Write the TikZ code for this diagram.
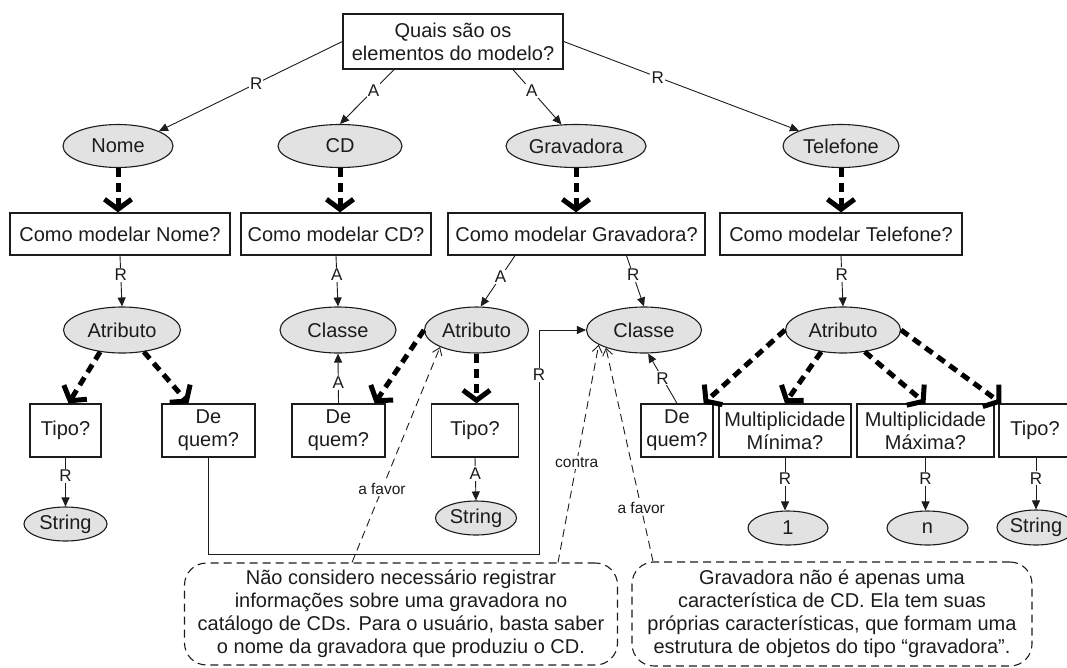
\documentclass[tikz,border=0pt]{standalone}
\usepackage{fontspec}
\setmainfont{Liberation Sans}
\usetikzlibrary{arrows.meta,shapes.geometric}
\definecolor{ellfill}{HTML}{E2E2E2}
\definecolor{ink}{HTML}{1C1C1C}
\begin{document}
\begin{tikzpicture}[x=1pt,y=-1pt,
  every node/.style={text=ink},
  box/.style={draw=ink, line width=1.3pt, rectangle, inner sep=2pt, align=center, font=\fontsize{20}{23}\selectfont},
  ell/.style={draw=ink, line width=1.1pt, ellipse, fill=ellfill, inner sep=0pt, font=\fontsize{20}{23}\selectfont},
  note/.style={draw=ink, line width=1.1pt, dash pattern=on 8pt off 5pt, rounded corners=22pt, align=center, inner sep=0pt, font=\fontsize{20}{23}\selectfont},
  lbl/.style={fill=white, inner sep=1.2pt, font=\fontsize{17}{19}\selectfont},
  arglbl/.style={fill=white, inner sep=1.5pt, font=\fontsize{15.5}{17}\selectfont},
  link/.style={draw=ink, line width=0.9pt, -{Triangle[length=9pt,width=8pt]}},
  arg/.style={draw=ink, line width=0.9pt, dash pattern=on 8pt off 5pt, -{Straight Barb[length=7pt,width=10pt]}},
  bigdash/.style={draw=black, line width=5pt, dash pattern=on 9pt off 6pt, -{Straight Barb[length=10pt,width=27pt]}}
]
\useasboundingbox (0,0) rectangle (1067,667);

% top question
\node[box, minimum width=220pt, minimum height=55pt] (q) at (453,41.5) {Quais são os\\elementos do modelo?};

% row 1 ellipses
\node[ell, minimum width=110pt, minimum height=43pt] (nome) at (118,146) {Nome};
\node[ell, minimum width=124pt, minimum height=43pt] (cd) at (340,146) {CD};
\node[ell, minimum width=140pt, minimum height=43pt] (grav) at (576,146) {Gravadora};
\node[ell, minimum width=116pt, minimum height=43pt] (tel) at (841,146) {Telefone};

% row 2 boxes
\node[box, minimum width=220pt, minimum height=42pt] (cmn) at (120,234) {Como modelar Nome?};
\node[box, minimum width=190pt, minimum height=42pt] (cmcd) at (336,234) {Como modelar CD?};
\node[box, minimum width=257pt, minimum height=42pt] (cmg) at (576.5,234) {Como modelar Gravadora?};
\node[box, minimum width=242pt, minimum height=42pt] (cmt) at (841,234) {Como modelar Telefone?};

% row 3 ellipses
\node[ell, minimum width=117pt, minimum height=46pt] (at1) at (122,330) {Atributo};
\node[ell, minimum width=116pt, minimum height=46pt] (cl1) at (338,330) {Classe};
\node[ell, minimum width=104pt, minimum height=46pt] (at2) at (476.5,330) {Atributo};
\node[ell, minimum width=115pt, minimum height=46pt] (cl2) at (644,330) {Classe};
\node[ell, minimum width=115pt, minimum height=46pt] (at3) at (843,330) {Atributo};

% row 4 boxes
\node[box, minimum width=71pt, minimum height=53pt] (tp1) at (65.5,430.5) {Tipo?};
\node[box, minimum width=93pt, minimum height=53pt] (dq1) at (208.5,430.5) {De\\quem?};
\node[box, minimum width=93pt, minimum height=53pt] (dq2) at (338.5,430.5) {De\\quem?};
\node[box, minimum width=87pt, minimum height=53pt] (tp2) at (475,430.5) {Tipo?};
\node[box, minimum width=72pt, minimum height=53pt] (dq3) at (677,430.5) {De\\quem?};
\node[box, minimum width=132pt, minimum height=53pt] (mmin) at (785,430.5) {Multiplicidade\\Mínima?};
\node[box, minimum width=137pt, minimum height=53pt] (mmax) at (925.5,430.5) {Multiplicidade\\Máxima?};
\node[box, minimum width=72pt, minimum height=53pt] (tp3) at (1035,430.5) {Tipo?};

% row 5 ellipses
\node[ell, minimum width=83pt, minimum height=34pt] (s1) at (65.5,524) {String};
\node[ell, minimum width=81pt, minimum height=34pt] (s2) at (476,518) {String};
\node[ell, minimum width=80pt, minimum height=34pt] (one) at (788,528) {1};
\node[ell, minimum width=81pt, minimum height=34pt] (n) at (927.5,528) {n};
\node[ell, minimum width=78pt, minimum height=35pt] (s3) at (1036,527.5) {String};

% notes
\node[note, minimum width=433pt, minimum height=102pt] (note1) at (401,614) {Não considero necessário registrar\\informações sobre uma gravadora no\\catálogo de CDs. Para o usuário, basta saber\\o nome da gravadora que produziu o CD.};
\node[note, minimum width=400pt, minimum height=104pt] (note2) at (832,614) {Gravadora não é apenas uma\\característica de CD. Ela tem suas\\próprias características, que formam uma\\estrutura de objetos do tipo “gravadora”.};

% row 0 -> 1
\draw[link] (q.west) -- node[lbl,pos=0.47]{R} (nome.20);
\draw[link] ([xshift=-59pt]q.south) -- node[lbl,pos=0.38]{A} (cd.north);
\draw[link] ([xshift=60pt]q.south) -- node[lbl,pos=0.39]{A} (grav.124);
\draw[link] (q.east) -- node[lbl,pos=0.4]{R} (tel.160);

% row 1 -> 2
\draw[bigdash] (nome.south) -- (nome.south |- cmn.north);
\draw[bigdash] (cd.south) -- (cd.south |- cmcd.north);
\draw[bigdash] (grav.south) -- (grav.south |- cmg.north);
\draw[bigdash] (tel.south) -- (tel.south |- cmt.north);

% row 2 -> 3
\draw[link] (cmn.south) -- node[lbl,pos=0.38]{R} (at1.north);
\draw[link] (cmcd.south) -- node[lbl,pos=0.38]{A} (cl1.north);
\draw[link] ([xshift=-61.5pt]cmg.south) -- node[lbl,pos=0.42]{A} (at2.80);
\draw[link] ([xshift=50pt]cmg.south) -- node[lbl,pos=0.38]{R} (cl2.north);
\draw[link] (cmt.south) -- node[lbl,pos=0.37]{R} (at3.north);

% row 3 -> 4
\draw[bigdash] (at1.-135) -- ([xshift=3pt]tp1.north);
\draw[bigdash] (at1.-45) -- ([xshift=-20pt]dq1.north);
\draw[bigdash] (at2.west) -- ([xshift=-11pt]dq2.north east);
\draw[bigdash] (at2.south) -- (at2.south |- tp2.north);
\draw[bigdash] (at3.west) -- ([xshift=-10pt]dq3.north east);
\draw[bigdash] (at3.-135) -- (mmin.north);
\draw[bigdash] (at3.-45) -- (mmax.north);
\draw[bigdash] (at3.east) -- ([xshift=3pt]tp3.north west);

% row 4 -> 3 (upward)
\draw[link] (dq2.north) -- node[lbl,pos=0.41]{A} (cl1.south);
\draw[link] (dq3.north) -- node[lbl,pos=0.5]{R} (cl2.-80);
\coordinate (bendA) at (539,554);
\draw[link] (dq1.south) |- (bendA) |- node[lbl,pos=0.4]{R} (cl2.west);

% row 4 -> 5
\draw[link] (tp1.south) -- node[lbl,pos=0.37]{R} (s1.north);
\draw[link] (tp2.south) -- node[lbl,pos=0.37]{A} (s2.north);
\draw[link] (mmin.south) -- node[lbl,pos=0.4]{R} (mmin.south |- one.north);
\draw[link] (mmax.south) -- node[lbl,pos=0.4]{R} (mmax.south |- n.north);
\draw[link] (s3.north |- tp3.south) -- node[lbl,pos=0.4]{R} (s3.north);

% arguments
\draw[arg] ([xshift=-49pt]note1.north) -- node[arglbl,pos=0.34]{a favor} (at2.-155);
\draw[arg] ([xshift=157pt]note1.north) -- node[arglbl,pos=0.46]{contra} (cl2.-162);
\draw[arg] ([xshift=-179pt]note2.north) -- node[arglbl,pos=0.25]{a favor} (cl2.-155);
\end{tikzpicture}
\end{document}
